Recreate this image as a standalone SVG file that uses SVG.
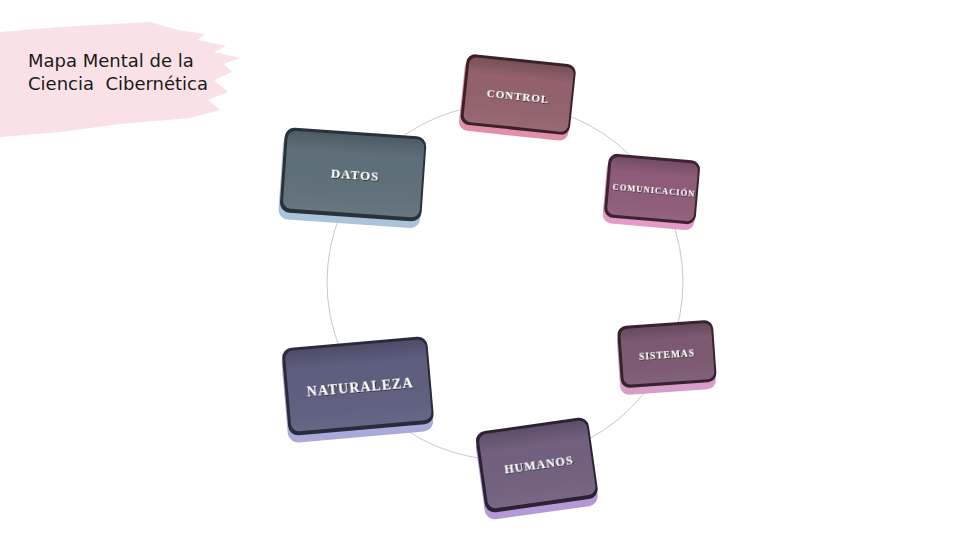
<svg xmlns="http://www.w3.org/2000/svg" width="976" height="551" viewBox="0 0 976 551">
<style>
.lbl{font-family:"Liberation Serif","DejaVu Serif",serif;font-weight:bold;fill:#ffffff;text-anchor:middle;dominant-baseline:central;letter-spacing:1px}
.title{font-family:"DejaVu Sans","Liberation Sans",sans-serif;font-size:18px;fill:#1a1a1a}
.edge{fill:none;stroke:#c9c9c9;stroke-width:1}
</style>
<defs>
<filter id="ts" x="-20%" y="-50%" width="140%" height="200%"><feDropShadow dx="0.8" dy="0.8" stdDeviation="0.4" flood-color="#000" flood-opacity="0.7"/></filter>
<linearGradient id="shade" x1="0" y1="0" x2="0" y2="1"><stop offset="0" stop-color="#000" stop-opacity="0.18"/><stop offset="0.25" stop-color="#000" stop-opacity="0"/><stop offset="1" stop-color="#fff" stop-opacity="0.05"/></linearGradient>
</defs>
<rect width="976" height="551" fill="#ffffff"/>
<path d="M0,32 L60,27 L150,22 L178,30 L205,34 L198,40 L226,46 L214,52 L240,58 L224,64 L232,72 L214,80 L228,92 L208,100 L220,110 L190,118 L120,124 L60,132 L0,137 Z" fill="#f9e1e7"/>
<text class="title" x="28" y="67">Mapa Mental de la</text>
<text class="title" x="28" y="90" xml:space="preserve">Ciencia  Cibernética</text>
<g id="connectors"><circle class="edge" cx="505" cy="282" r="178"/></g>
<g id="control" transform="translate(518,96) rotate(6)">
<rect x="-56" y="-32" width="110" height="72" rx="9" fill="#e28fa9"/>
<rect x="-55" y="-37" width="110" height="71" rx="9" fill="#3b2228"/>
<rect x="-52" y="-34" width="105" height="65" rx="7" fill="#93626c"/>
<rect x="-52" y="-34" width="105" height="65" rx="7" fill="url(#shade)"/>
<text class="lbl" x="0" y="0" font-size="11" filter="url(#ts)">CONTROL</text>
</g>
<g id="comunicacion" transform="translate(652,190) rotate(5)">
<rect x="-47" y="-28" width="92" height="65" rx="9" fill="#e49ac4"/>
<rect x="-46" y="-33" width="92" height="64" rx="9" fill="#3d2232"/>
<rect x="-43" y="-30" width="87" height="58" rx="7" fill="#8e5c78"/>
<rect x="-43" y="-30" width="87" height="58" rx="7" fill="url(#shade)"/>
<text class="lbl" x="2" y="0" font-size="8.5" letter-spacing="0.5" filter="url(#ts)">COMUNICACIÓN</text>
</g>
<g id="datos" transform="translate(353,176) rotate(4)">
<rect x="-72" y="-38" width="142" height="86" rx="10" fill="#abc3da"/>
<rect x="-71" y="-44" width="142" height="85" rx="10" fill="#27323a"/>
<rect x="-68" y="-41" width="137" height="78" rx="8" fill="#5f6f79"/>
<rect x="-68" y="-41" width="137" height="78" rx="8" fill="url(#shade)"/>
<text class="lbl" x="2" y="-2" font-size="13" filter="url(#ts)">DATOS</text>
</g>
<g id="naturaleza" transform="translate(358,387) rotate(-5)">
<rect x="-74" y="-39" width="146" height="89" rx="10" fill="#a9a9da"/>
<rect x="-73" y="-45" width="146" height="88" rx="10" fill="#2b2a3c"/>
<rect x="-70" y="-42" width="141" height="81" rx="8" fill="#5e5e7f"/>
<rect x="-70" y="-42" width="141" height="81" rx="8" fill="url(#shade)"/>
<text class="lbl" x="2" y="0" font-size="14" filter="url(#ts)">NATURALEZA</text>
</g>
<g id="humanos" transform="translate(537,466) rotate(-8)">
<rect x="-58" y="-36" width="114" height="83" rx="10" fill="#b39ad6"/>
<rect x="-57" y="-42" width="114" height="82" rx="10" fill="#2c2234"/>
<rect x="-54" y="-39" width="109" height="75" rx="8" fill="#71607f"/>
<rect x="-54" y="-39" width="109" height="75" rx="8" fill="url(#shade)"/>
<text class="lbl" x="2" y="-1" font-size="12" filter="url(#ts)">HUMANOS</text>
</g>
<g id="sistemas" transform="translate(667,355) rotate(-4)">
<rect x="-49" y="-26" width="96" height="63" rx="9" fill="#d79ec8"/>
<rect x="-48" y="-32" width="96" height="62" rx="9" fill="#37222f"/>
<rect x="-45" y="-29" width="91" height="56" rx="7" fill="#7c5a72"/>
<rect x="-45" y="-29" width="91" height="56" rx="7" fill="url(#shade)"/>
<text class="lbl" x="0" y="0" font-size="9.5" letter-spacing="0.5" filter="url(#ts)">SISTEMAS</text>
</g>
</svg>
